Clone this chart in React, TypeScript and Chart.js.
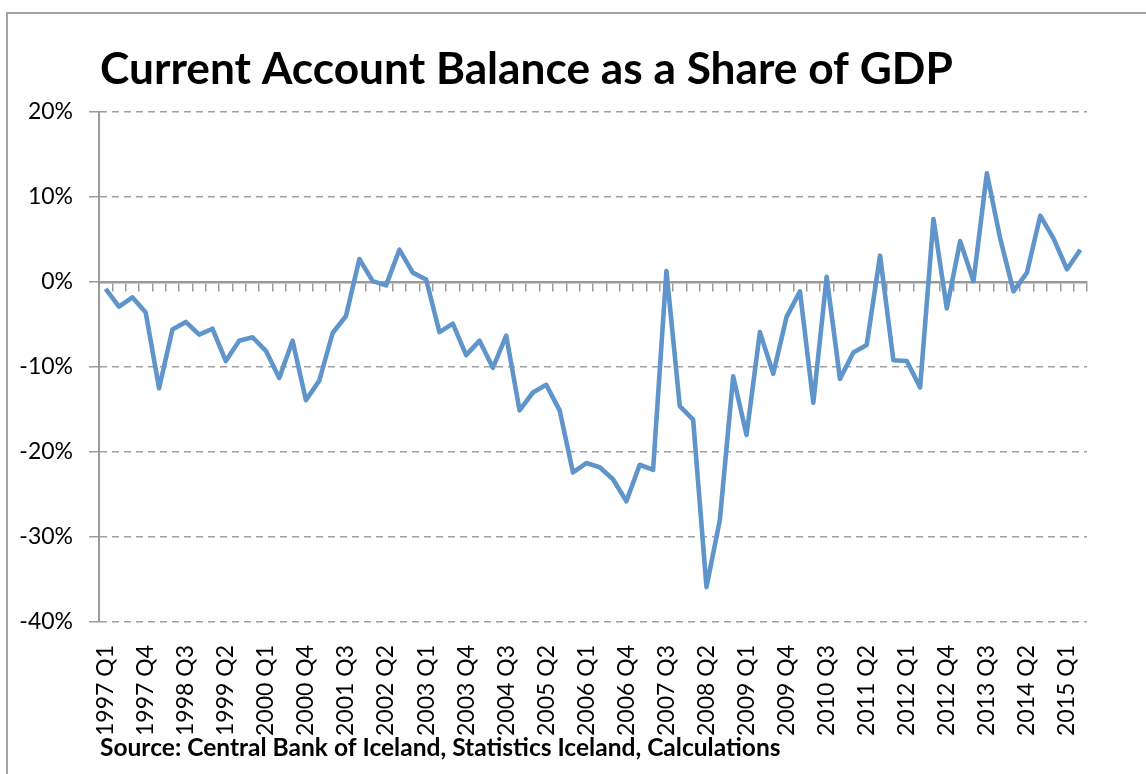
import React, { useEffect, useRef } from 'react';
import { Chart, registerables } from 'chart.js';

Chart.register(...registerables);

const quarterLabels: string[] = [
  '1997 Q1', '1997 Q2', '1997 Q3', '1997 Q4',
  '1998 Q1', '1998 Q2', '1998 Q3', '1998 Q4',
  '1999 Q1', '1999 Q2', '1999 Q3', '1999 Q4',
  '2000 Q1', '2000 Q2', '2000 Q3', '2000 Q4',
  '2001 Q1', '2001 Q2', '2001 Q3', '2001 Q4',
  '2002 Q1', '2002 Q2', '2002 Q3', '2002 Q4',
  '2003 Q1', '2003 Q2', '2003 Q3', '2003 Q4',
  '2004 Q1', '2004 Q2', '2004 Q3', '2004 Q4',
  '2005 Q1', '2005 Q2', '2005 Q3', '2005 Q4',
  '2006 Q1', '2006 Q2', '2006 Q3', '2006 Q4',
  '2007 Q1', '2007 Q2', '2007 Q3', '2007 Q4',
  '2008 Q1', '2008 Q2', '2008 Q3', '2008 Q4',
  '2009 Q1', '2009 Q2', '2009 Q3', '2009 Q4',
  '2010 Q1', '2010 Q2', '2010 Q3', '2010 Q4',
  '2011 Q1', '2011 Q2', '2011 Q3', '2011 Q4',
  '2012 Q1', '2012 Q2', '2012 Q3', '2012 Q4',
  '2013 Q1', '2013 Q2', '2013 Q3', '2013 Q4',
  '2014 Q1', '2014 Q2', '2014 Q3', '2014 Q4',
  '2015 Q1', '2015 Q2',
];

// Current account balance, % of GDP
const balanceShare: number[] = [
  -0.8, -2.9, -1.8, -3.6, -12.5, -5.6, -4.7, -6.2, -5.5, -9.3,
  -6.9, -6.5, -8.1, -11.3, -6.9, -13.9, -11.6, -6.0, -4.0, 2.7,
  0.1, -0.4, 3.8, 1.1, 0.3, -5.9, -4.9, -8.6, -6.9, -10.1,
  -6.3, -15.1, -13.0, -12.1, -15.1, -22.4, -21.3, -21.8, -23.2, -25.8,
  -21.5, -22.1, 1.3, -14.6, -16.2, -35.9, -28.0, -11.1, -18.0, -5.9,
  -10.8, -4.1, -1.1, -14.2, 0.6, -11.4, -8.3, -7.4, 3.1, -9.2,
  -9.3, -12.4, 7.4, -3.1, 4.8, 0.1, 12.8, 5.1, -1.1, 1.1,
  7.8, 5.1, 1.5, 3.8,
];

const yMin = -40;
const yMax = 20;
const yStep = 10;
const labelEvery = 3;

const TITLE = 'Current Account Balance as a Share of GDP';
const SOURCE = 'Source: Central Bank of Iceland, Statistics Iceland, Calculations';

const W = 1146;
const H = 774;
const GRID = '#a0a0a0';
const AXIS = '#9a9a9a';
const LINE = '#5f95cb';
const FONT = "'Lato', 'Open Sans', sans-serif";

const textPlugin = {
  id: 'texts',
  afterDraw(chart: any) {
    const ctx = chart.ctx as CanvasRenderingContext2D;
    const left = chart.chartArea.left + 1;
    ctx.save();
    ctx.fillStyle = '#000';
    ctx.textAlign = 'left';
    ctx.textBaseline = 'alphabetic';
    const fit = (text: string, size: number, target: number) => {
      ctx.font = `bold ${size}px ${FONT}`;
      const w = ctx.measureText(text).width;
      ctx.font = `bold ${(size * target) / w}px ${FONT}`;
    };
    fit(TITLE, 44, 853);
    ctx.fillText(TITLE, left, 84);
    fit(SOURCE, 21, 681);
    ctx.fillText(SOURCE, left, 756);
    ctx.restore();
  },
};

export default function App() {
  const ref = useRef<HTMLCanvasElement | null>(null);

  useEffect(() => {
    if (!ref.current) return;
    const chart = new Chart(ref.current, {
      type: 'line',
      data: {
        labels: quarterLabels,
        datasets: [
          {
            data: balanceShare,
            borderColor: LINE,
            borderWidth: 4.6,
            pointRadius: 0,
            tension: 0,
            fill: false,
            borderJoinStyle: 'round',
            xAxisID: 'x',
            yAxisID: 'y',
          },
        ],
      },
      options: {
        responsive: false,
        animation: false,
        maintainAspectRatio: false,
        layout: { padding: { top: 112, right: 59, left: 0, bottom: 0 } },
        plugins: {
          legend: { display: false },
          tooltip: { enabled: false },
          title: { display: false },
        },
        scales: {
          y: {
            type: 'linear',
            min: yMin,
            max: yMax,
            afterFit: (s: any) => {
              s.width = 99;
            },
            ticks: {
              stepSize: yStep,
              padding: 16,
              color: '#000',
              font: { family: FONT, size: 23 },
              callback: (v: any) => `${v}%`,
            },
            grid: {
              color: GRID,
              lineWidth: 1.5,
              drawTicks: true,
              tickLength: 10,
              tickColor: AXIS,
              tickWidth: 1.5,
            },
            border: { display: true, color: AXIS, width: 2, dash: [7, 5] },
          },
          x: {
            type: 'category',
            position: 'bottom',
            offset: true,
            afterFit: (s: any) => {
              s.height = H - 622;
            },
            grid: { display: false },
            border: { display: false },
            ticks: {
              autoSkip: false,
              minRotation: 90,
              maxRotation: 90,
              padding: 15,
              color: '#000',
              font: { family: FONT, size: 23 },
              callback: (_v: any, i: number) => (i % labelEvery === 0 ? quarterLabels[i] : ''),
            },
          },
          x2: {
            type: 'category',
            position: { y: 0 },
            offset: true,
            ticks: { display: false, autoSkip: false },
            grid: {
              offset: true,
              drawOnChartArea: false,
              drawTicks: true,
              tickLength: 8,
              color: AXIS,
              tickColor: AXIS,
              lineWidth: 1.5,
              tickWidth: 1.5,
            },
            border: { display: true, color: AXIS, width: 2.5 },
          },
        },
      } as any,
      plugins: [textPlugin],
    });
    return () => chart.destroy();
  }, []);

  return (
    <div style={{ position: 'absolute', left: 0, top: 0, width: W, height: H, background: '#fff', overflow: 'hidden' }}>
      <div
        style={{
          position: 'absolute',
          left: 6,
          top: 12,
          width: W - 6,
          height: H - 12,
          borderTop: '2px solid #a3a3a3',
          borderLeft: '2px solid #a3a3a3',
          boxSizing: 'border-box',
        }}
      />
      <canvas ref={ref} width={W} height={H} style={{ position: 'absolute', left: 0, top: 0 }} />
    </div>
  );
}
